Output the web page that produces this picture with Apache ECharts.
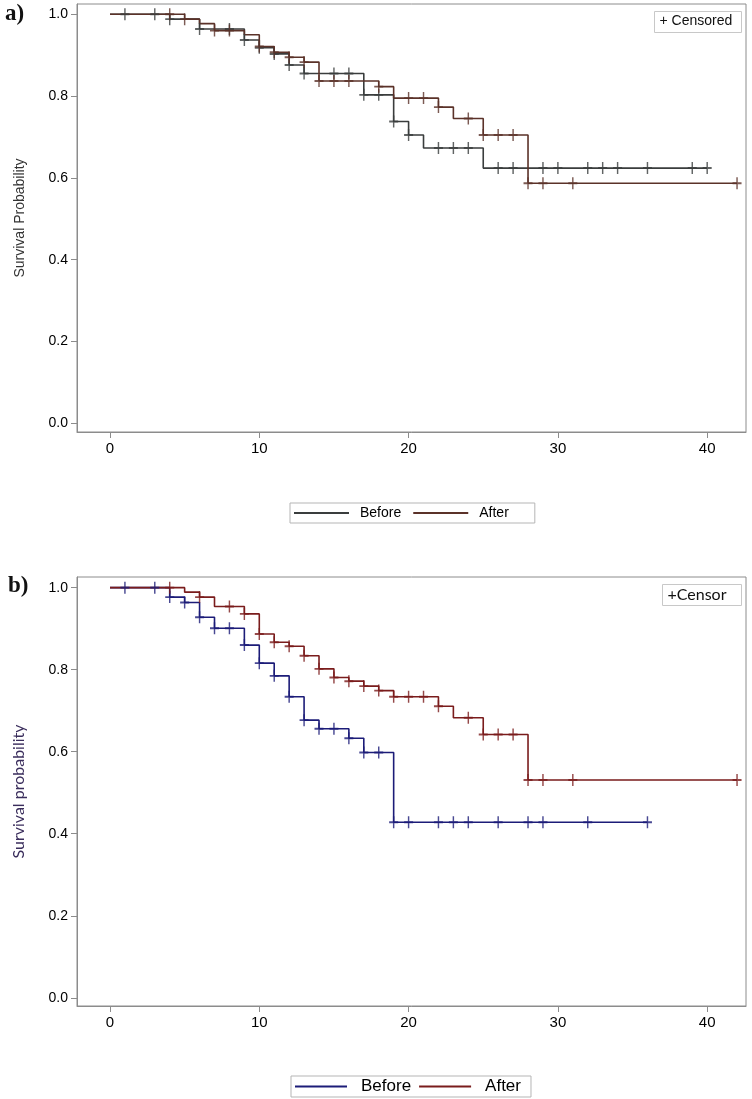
<!DOCTYPE html>
<html>
<head>
<meta charset="utf-8">
<script src="https://cdn.jsdelivr.net/npm/echarts@6/dist/echarts.min.js"></script>
<style>
  html, body { margin: 0; padding: 0; background: #fff; }
  #chart { width: 752px; height: 1099px; }
</style>
</head>
<body>
<div id="chart"></div>
<script>
// ---------- Data ----------
const X_TICKS = [0, 10, 20, 30, 40];
const Y_TICKS = [0, 0.2, 0.4, 0.6, 0.8, 1.0];

// Panel a) – Kaplan–Meier steps (time, survival) and censor times
const aBeforeT = [0, 4, 6, 9, 10, 11, 12, 13, 17, 19, 20, 21, 25];
const aBeforeS = [1.0, 0.988, 0.964, 0.937, 0.918, 0.903, 0.876, 0.855, 0.803, 0.738, 0.705, 0.673, 0.624];
const aBeforeEnd = 40;
const aBeforeCens = [1, 3, 4, 6, 8, 9, 10, 11, 12, 13, 15, 16, 17, 18, 19, 20, 22, 23, 24, 26, 27, 29, 30, 32, 33, 34, 36, 39, 40];

const aAfterT = [0, 5, 6, 7, 9, 10, 11, 12, 13, 14, 18, 19, 22, 23, 25, 28];
const aAfterS = [1.0, 0.988, 0.977, 0.960, 0.950, 0.921, 0.907, 0.895, 0.883, 0.837, 0.823, 0.795, 0.773, 0.745, 0.705, 0.587];
const aAfterEnd = 42;
const aAfterCens = [4, 5, 7, 8, 10, 11, 12, 13, 14, 15, 16, 18, 20, 21, 22, 24, 25, 26, 27, 28, 29, 31, 42];

// Panel b)
const bBeforeT = [0, 4, 5, 6, 7, 9, 10, 11, 12, 13, 14, 16, 17, 19];
const bBeforeS = [1.0, 0.977, 0.964, 0.928, 0.901, 0.860, 0.816, 0.785, 0.734, 0.677, 0.656, 0.633, 0.598, 0.428];
const bBeforeEnd = 36;
const bBeforeCens = [1, 3, 4, 5, 6, 7, 8, 9, 10, 11, 12, 13, 14, 15, 16, 17, 18, 19, 20, 22, 23, 24, 26, 28, 29, 32, 36];

const bAfterT = [0, 5, 6, 7, 9, 10, 11, 12, 13, 14, 15, 16, 17, 18, 19, 22, 23, 25, 28];
const bAfterS = [1.0, 0.989, 0.977, 0.954, 0.936, 0.887, 0.867, 0.857, 0.834, 0.802, 0.781, 0.772, 0.760, 0.749, 0.734, 0.711, 0.683, 0.642, 0.531];
const bAfterEnd = 42;
const bAfterCens = [4, 6, 8, 9, 10, 11, 12, 13, 14, 15, 16, 17, 18, 19, 20, 21, 22, 24, 25, 26, 27, 28, 29, 31, 42];

// ---------- Helpers ----------
function stepData(T, S, end) {
  const d = T.map((t, i) => [t, S[i]]);
  d.push([end, S[S.length - 1]]);
  return d;
}
function survAt(T, S, t) {
  let v = S[0];
  for (let i = 0; i < T.length; i++) { if (T[i] <= t) v = S[i]; }
  return v;
}
function censData(C, T, S) {
  return C.map(c => [c, survAt(T, S, c)]);
}

const PLUS = 'path://M0,42 L100,42 L100,58 L0,58 Z M42,0 L58,0 L58,100 L42,100 Z';
const SANS = "'Liberation Sans', Arial, sans-serif";

const colA = { before: '#3a3d3d', after: '#5b3229' };
const colB = { before: '#1c1c78', after: '#7a1c1c' };

function xAxis(gi) {
  return {
    type: 'value', gridIndex: gi, min: -2.21, max: 42.6,
    axisLine: { show: true, onZero: false, lineStyle: { color: '#8c8c8c', width: 1 } },
    axisTick: { show: true, customValues: X_TICKS, length: 6, lineStyle: { color: '#8c8c8c' } },
    axisLabel: { customValues: X_TICKS, fontFamily: SANS, fontSize: 15, color: '#000', margin: 9 },
    splitLine: { show: false }
  };
}
function yAxis(gi, min, max, name, nameStyle) {
  return {
    type: 'value', gridIndex: gi, min: min, max: max,
    name: name, nameLocation: 'middle', nameGap: 50, nameTextStyle: nameStyle,
    axisLine: { show: true, onZero: false, lineStyle: { color: '#8c8c8c', width: 1 } },
    axisTick: { show: true, customValues: Y_TICKS, length: 6, lineStyle: { color: '#8c8c8c' } },
    axisLabel: { customValues: Y_TICKS, fontFamily: SANS, fontSize: 14, color: '#000', margin: 9,
                 formatter: v => v.toFixed(1) },
    splitLine: { show: false }
  };
}
function kmLine(name, xi, T, S, end, color) {
  return {
    name: name, type: 'line', xAxisIndex: xi, yAxisIndex: xi, step: 'end',
    data: stepData(T, S, end), symbol: 'none', silent: true,
    lineStyle: { color: color, width: 1.6 }, itemStyle: { color: color }, z: 2
  };
}
function cens(name, xi, C, T, S, color) {
  return {
    name: name, type: 'scatter', xAxisIndex: xi, yAxisIndex: xi,
    data: censData(C, T, S), symbol: PLUS, symbolSize: [9, 12], silent: true,
    itemStyle: { color: color }, z: 3
  };
}

const chart = echarts.init(document.getElementById('chart'), null, { renderer: 'canvas' });
chart.setOption({
  animation: false,
  backgroundColor: '#ffffff',
  grid: [
    { left: 77, top: 4, width: 669, height: 428, show: true, borderColor: '#8c8c8c', borderWidth: 1 },
    { left: 77, top: 577, width: 669, height: 429, show: true, borderColor: '#8c8c8c', borderWidth: 1 }
  ],
  xAxis: [xAxis(0), xAxis(1)],
  yAxis: [
    yAxis(0, -0.021, 1.025, 'Survival Probability', { fontFamily: SANS, fontSize: 14, color: '#333' }),
    yAxis(1, -0.020, 1.026, 'Survival probability', { fontFamily: "Lato, 'Open Sans', sans-serif", fontSize: 16, color: '#3a2d5c' })
  ],
  legend: [
    {
      left: 290, top: 503, width: 300, padding: [3, 26, 3, 4], itemGap: 12,
      borderColor: '#b5b5b5', borderWidth: 1, icon: 'rect', itemWidth: 55, itemHeight: 2,
      selectedMode: false,
      textStyle: { fontFamily: SANS, fontSize: 14, color: '#000', padding: [0, 0, 0, 6] },
      data: [
        { name: 'Before', itemStyle: { color: colA.before } },
        { name: 'After', itemStyle: { color: colA.after } }
      ]
    },
    {
      left: 291, top: 1076, width: 300, padding: [2, 10, 2, 4], itemGap: 8,
      borderColor: '#b5b5b5', borderWidth: 1, icon: 'rect', itemWidth: 52, itemHeight: 2,
      selectedMode: false,
      formatter: n => n.replace('_b', ''),
      textStyle: { fontFamily: SANS, fontSize: 17, color: '#000', padding: [0, 0, 0, 9] },
      data: [
        { name: 'Before_b', itemStyle: { color: colB.before } },
        { name: 'After_b', itemStyle: { color: colB.after } }
      ]
    }
  ],
  graphic: [
    { type: 'text', left: 5, top: 3, style: { text: 'a)', font: "bold 23px 'Liberation Serif', 'Times New Roman', serif", fill: '#111' } },
    { type: 'text', left: 8, top: 575, style: { text: 'b)', font: "bold 23px 'Liberation Serif', 'Times New Roman', serif", fill: '#111' } },
    { type: 'group', left: 654, top: 11, children: [
      { type: 'rect', shape: { x: 0, y: 0, width: 87, height: 21 }, style: { fill: '#fff', stroke: '#c8c8c8', lineWidth: 1 } },
      { type: 'text', x: 5, y: 3, style: { text: '+ Censored', font: "14px 'Liberation Sans', Arial, sans-serif", fill: '#111' } }
    ] },
    { type: 'group', left: 662, top: 584, children: [
      { type: 'rect', shape: { x: 0, y: 0, width: 79, height: 21 }, style: { fill: '#fff', stroke: '#c8c8c8', lineWidth: 1 } },
      { type: 'text', x: 5, y: 2, style: { text: '+Censor', font: "16px Lato, 'Open Sans', sans-serif", fill: '#111' } }
    ] }
  ],
  series: [
    kmLine('Before', 0, aBeforeT, aBeforeS, aBeforeEnd, colA.before),
    kmLine('After', 0, aAfterT, aAfterS, aAfterEnd, colA.after),
    cens('Before', 0, aBeforeCens, aBeforeT, aBeforeS, colA.before),
    cens('After', 0, aAfterCens, aAfterT, aAfterS, colA.after),
    kmLine('Before_b', 1, bBeforeT, bBeforeS, bBeforeEnd, colB.before),
    kmLine('After_b', 1, bAfterT, bAfterS, bAfterEnd, colB.after),
    cens('Before_b', 1, bBeforeCens, bBeforeT, bBeforeS, colB.before),
    cens('After_b', 1, bAfterCens, bAfterT, bAfterS, colB.after)
  ]
});
</script>
</body>
</html>
